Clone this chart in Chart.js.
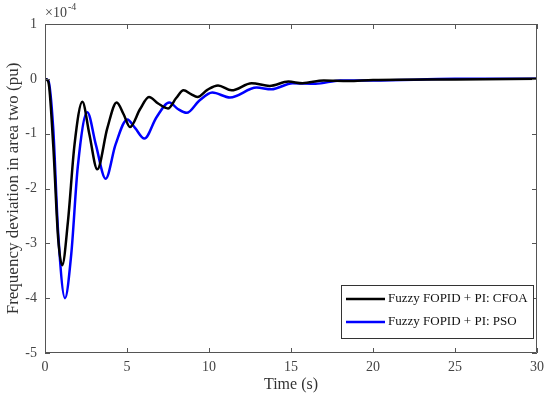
<!DOCTYPE html>
<html lang="en">
<head>
    <meta charset="UTF-8">
    <title>Frequency deviation in area two</title>
    <script src="https://cdn.jsdelivr.net/npm/chart.js"></script>
    <style>
        html, body { margin: 0; padding: 0; background: #fff; }
        .chart-container { width: 550px; height: 397px; }
    </style>
</head>
<body>
<div class="chart-container">
    <canvas id="freqChart"></canvas>
</div>

<script>
    // values (units of 1e-4 pu)
    const cfoaTime = [0, 0.2, 0.5, 0.8, 1.05, 1.4, 1.8, 2.28, 2.7, 3.19, 3.8, 4.37, 4.8, 5.18, 5.8, 6.34, 6.9, 7.5, 8.0, 8.45, 8.9, 9.3, 9.9, 10.55, 11.38, 12.6, 13.7, 14.84, 15.7, 17, 18.5, 20, 25, 30];
    const cfoaValues = [0, -0.05, -1.2, -2.9, -3.40, -2.6, -1.2, -0.42, -1.0, -1.65, -0.9, -0.43, -0.65, -0.88, -0.55, -0.33, -0.45, -0.54, -0.35, -0.21, -0.28, -0.33, -0.2, -0.12, -0.21, -0.08, -0.13, -0.05, -0.08, -0.03, -0.04, -0.02, -0.01, 0];

    const psoTime = [0, 0.2, 0.5, 0.8, 1.22, 1.6, 2.0, 2.58, 3.1, 3.70, 4.3, 5.02, 5.5, 6.06, 6.8, 7.58, 8.1, 8.64, 9.4, 10.2, 11.28, 12.9, 13.8, 15.1, 16.5, 18, 20, 25, 30];
    const psoValues = [0, -0.03, -0.9, -2.8, -4.0, -3.2, -1.6, -0.61, -1.2, -1.82, -1.2, -0.74, -0.9, -1.09, -0.7, -0.43, -0.55, -0.62, -0.4, -0.25, -0.34, -0.16, -0.19, -0.08, -0.09, -0.03, -0.03, 0, 0];

    const seriesLabels = ["Fuzzy FOPID + PI: CFOA", "Fuzzy FOPID + PI: PSO"];
    const seriesColors = ["#000000", "#0000ff"];
    const xTicks = [0, 5, 10, 15, 20, 25, 30];
    const yTicks = [-5, -4, -3, -2, -1, 0, 1];

    const serif = "'Liberation Serif', 'DejaVu Serif', serif";
    const axisGray = "#555555";

    function toPoints(ts, vs) {
        return ts.map((t, i) => ({ x: t, y: vs[i] }));
    }

    // box, inward ticks, exponent label and legend box
    const matlabAxes = {
        id: 'matlabAxes',
        afterDraw(chart) {
            const ctx = chart.ctx;
            const a = chart.chartArea;
            const xs = chart.scales.x, ys = chart.scales.y;
            ctx.save();
            ctx.strokeStyle = axisGray;
            ctx.lineWidth = 1;
            ctx.beginPath();
            ctx.rect(a.left + 0.5, a.top + 0.5, a.right - a.left - 1, a.bottom - a.top - 1);
            ctx.stroke();

            ctx.beginPath();
            xTicks.forEach(t => {
                const px = Math.round(xs.getPixelForValue(t)) + 0.5;
                ctx.moveTo(px, a.bottom); ctx.lineTo(px, a.bottom - 5);
                ctx.moveTo(px, a.top); ctx.lineTo(px, a.top + 5);
            });
            yTicks.forEach(v => {
                const py = Math.round(ys.getPixelForValue(v)) + 0.5;
                ctx.moveTo(a.left, py); ctx.lineTo(a.left + 5, py);
                ctx.moveTo(a.right, py); ctx.lineTo(a.right - 5, py);
            });
            ctx.stroke();

            // exponent
            ctx.fillStyle = "#444";
            ctx.font = "14px " + serif;
            ctx.textBaseline = 'alphabetic';
            ctx.textAlign = 'left';
            ctx.fillText("\u00d710", a.left, a.top - 7);
            const w = ctx.measureText("\u00d710").width;
            ctx.font = "10px " + serif;
            ctx.fillText("-4", a.left + w + 1, a.top - 14);

            // legend
            const bx = 341, by = 285, bw = 192, bh = 53;
            ctx.fillStyle = "#fff";
            ctx.fillRect(bx, by, bw, bh);
            ctx.strokeStyle = "#333";
            ctx.strokeRect(bx + 0.5, by + 0.5, bw, bh);
            ctx.font = "13px " + serif;
            ctx.textBaseline = 'middle';
            chart.data.datasets.forEach((ds, i) => {
                const ly = by + 14 + i * 23;
                ctx.strokeStyle = ds.borderColor;
                ctx.lineWidth = 2.5;
                ctx.beginPath();
                ctx.moveTo(bx + 5, ly); ctx.lineTo(bx + 44, ly);
                ctx.stroke();
                ctx.fillStyle = "#111";
                ctx.fillText(ds.label, bx + 47, ly);
            });
            ctx.restore();
        }
    };

    new Chart(document.getElementById("freqChart"), {
        type: 'line',
        data: {
            datasets: [
                { label: seriesLabels[0], data: toPoints(cfoaTime, cfoaValues), borderColor: seriesColors[0] },
                { label: seriesLabels[1], data: toPoints(psoTime, psoValues), borderColor: seriesColors[1] }
            ]
        },
        options: {
            responsive: true,
            maintainAspectRatio: false,
            animation: false,
            layout: { padding: { top: 24, right: 12, left: 0, bottom: 0 } },
            elements: {
                point: { radius: 0 },
                line: { borderWidth: 2.5, cubicInterpolationMode: 'monotone', fill: false }
            },
            plugins: { legend: { display: false }, tooltip: { enabled: false } },
            scales: {
                x: {
                    type: 'linear', min: 0, max: 30,
                    afterBuildTicks: s => { s.ticks = xTicks.map(v => ({ value: v })); },
                    afterFit: s => { s.height = 44; },
                    grid: { display: false, drawTicks: false },
                    border: { display: false },
                    ticks: { color: "#444", font: { family: serif, size: 14 }, padding: 6, maxRotation: 0 },
                    title: { display: true, text: "Time (s)", color: "#333", font: { family: serif, size: 16 }, padding: { top: 0, bottom: 3 } }
                },
                y: {
                    type: 'linear', min: -5, max: 1,
                    afterBuildTicks: s => { s.ticks = yTicks.map(v => ({ value: v })); },
                    afterFit: s => { s.width = 45; },
                    grid: { display: false, drawTicks: false },
                    border: { display: false },
                    ticks: { color: "#444", font: { family: serif, size: 14 }, padding: 8 },
                    title: { display: true, text: "Frequency deviation in area two (pu)", color: "#333", font: { family: serif, size: 17 }, padding: { top: 3, bottom: 0 } }
                }
            }
        },
        plugins: [matlabAxes]
    });
</script>
</body>
</html>
